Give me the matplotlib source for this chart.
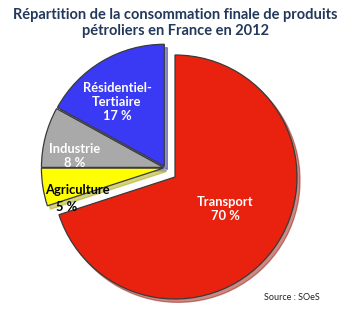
import matplotlib.pyplot as plt

# donnees
secteurs = ["Transport", "Agriculture", "Industrie", "Résidentiel-\nTertiaire"]
parts = [70, 5, 8, 17]
couleurs = ["#e8220e", "#ffff00", "#a9a9a9", "#3a3af5"]

titre = "Répartition de la consommation finale de produits\npétroliers en France en 2012"
source = "Source : SOeS"

fig = plt.figure(figsize=(3.51, 3.18), dpi=100)
fig.patch.set_facecolor("white")

# axe du camembert : rayon 1 = 122 px, centre a (175, 177) px
R = 122.0
cx, cy = 175.0, 177.0
half = 1.25
ax = fig.add_axes([(cx - half * R) / 351, (318 - cy - half * R) / 318,
                   2 * half * R / 351, 2 * half * R / 318])
ax.set_xlim(-half, half)
ax.set_ylim(-half, half)
ax.set_aspect("equal")
ax.axis("off")

wedges, _ = ax.pie(parts, colors=couleurs, startangle=90, counterclock=False,
                   explode=[0, 0.015, 0.015, 0.015],
                   wedgeprops=dict(edgecolor="#3a3a3a", linewidth=0.9),
                   shadow=dict(ox=0.018, oy=-0.02, shade=0.35))

# les trois petits secteurs sont detaches vers le haut-gauche
dx, dy = -0.08, 0.075
for w in wedges[1:]:
    c = w.center
    w.set_center((c[0] + dx, c[1] + dy))


def px(x, y):
    return (x - cx) / R, (cy - y) / R


blanc = dict(color="white", fontweight="bold", ha="center", va="center",
             family=["Lato", "DejaVu Sans"], fontsize=9.3, linespacing=1.2)
ax.text(*px(225, 209), "Transport\n70 %", **blanc)
ax.text(*px(117, 102), "Résidentiel-\nTertiaire\n17 %", **blanc)
ax.text(*px(75, 156), "Industrie\n8 %", **blanc)
noir = dict(blanc, color="black")
ax.text(*px(77, 190), "Agriculture", **noir)
ax.text(*px(67, 207), "5 %", **noir)

fig.text(175 / 351, 1 - 23 / 318, titre, ha="center", va="center",
         fontsize=10.5, fontweight="bold", color="#23395b",
         family=["Lato", "DejaVu Sans"], linespacing=1.25)
fig.text(292 / 351, 1 - 298 / 318, source, ha="center", va="center",
         fontsize=6.5, color="#222222", family=["Lato", "DejaVu Sans"])

fig.savefig("out.png", dpi=100)
